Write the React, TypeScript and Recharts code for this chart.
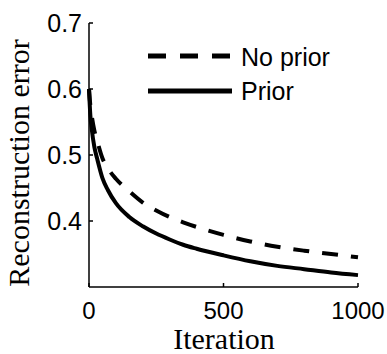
import { LineChart, Line, XAxis, YAxis } from "recharts";

// iterations sampled along both curves
const iterations = [0, 5, 10, 20, 30, 50, 70, 100, 150, 200, 250, 300, 350, 400, 500, 600, 700, 800, 900, 1000];
const noPrior = [0.6, 0.575, 0.56, 0.537, 0.522, 0.495, 0.48, 0.464, 0.445, 0.428, 0.416, 0.406, 0.398, 0.391, 0.379, 0.369, 0.361, 0.355, 0.35, 0.345];
const prior = [0.6, 0.56, 0.54, 0.512, 0.495, 0.465, 0.447, 0.427, 0.406, 0.392, 0.381, 0.372, 0.364, 0.358, 0.348, 0.339, 0.332, 0.327, 0.322, 0.318];

const xTicks = [0, 500, 1000];
const yTicks = [0.4, 0.5, 0.6, 0.7];

const data = iterations.map((it, i) => ({ it, noPrior: noPrior[i], prior: prior[i] }));

const SANS = "'Liberation Sans', Arial, sans-serif";
const SERIF = "'Liberation Serif', 'Times New Roman', serif";

// legend drawn inside the plot, top right
function LegendBox() {
  return (
    <g>
      <line x1={148} x2={232} y1={56} y2={56} stroke="#000" strokeWidth={5} strokeDasharray="18 14" />
      <line x1={148} x2={232} y1={91} y2={91} stroke="#000" strokeWidth={5} />
      <text x={241} y={57} dy="0.355em" fontFamily={SANS} fontSize={25} fill="#000">No prior</text>
      <text x={241} y={91} dy="0.355em" fontFamily={SANS} fontSize={25} fill="#000">Prior</text>
    </g>
  );
}

export default function App() {
  return (
    <div style={{ position: "absolute", left: 0, top: 0, background: "#fff" }}>
      <LineChart width={387} height={354} data={data} margin={{ top: 23, right: 29, bottom: 37, left: 29 }}>
        <XAxis
          dataKey="it"
          type="number"
          domain={[0, 1000]}
          ticks={xTicks}
          height={30}
          stroke="#000"
          strokeWidth={1.5}
          tickSize={-4}
          tickMargin={19}
          tick={{ fill: "#000", fontSize: 24, fontFamily: SANS }}
          label={{
            content: () => (
              <g>
                <text x={224} y={342} textAnchor="middle" dominantBaseline="middle" fontFamily={SERIF} fontSize={30} fill="#000">
                  Iteration
                </text>
                <LegendBox />
              </g>
            ),
          }}
        />
        <YAxis
          type="number"
          domain={[0.3, 0.7]}
          ticks={yTicks}
          width={60}
          stroke="#000"
          strokeWidth={1.5}
          tickSize={-4}
          tickMargin={11}
          tickFormatter={(v) => v.toFixed(1)}
          tick={{ fill: "#000", fontSize: 25, fontFamily: SANS }}
          label={{
            content: () => (
              <text
                x={22}
                y={163}
                transform="rotate(-90 22 163)"
                textAnchor="middle"
                dominantBaseline="middle"
                fontFamily={SERIF}
                fontSize={30}
                fill="#000"
              >
                Reconstruction error
              </text>
            ),
          }}
        />
        <Line type="monotone" dataKey="noPrior" stroke="#000" strokeWidth={4} strokeDasharray="16 13" dot={false} isAnimationActive={false} />
        <Line type="monotone" dataKey="prior" stroke="#000" strokeWidth={4} dot={false} isAnimationActive={false} />
      </LineChart>
    </div>
  );
}
